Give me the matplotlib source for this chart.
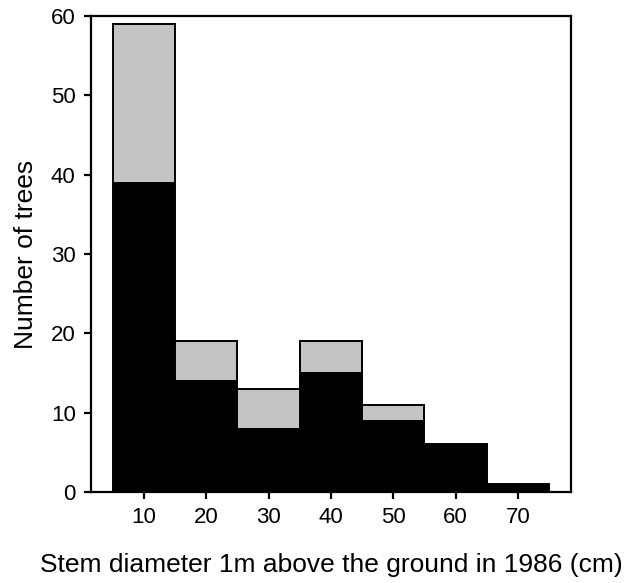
import numpy as np
import matplotlib

matplotlib.use('Agg')
import matplotlib.pyplot as plt

# stem diameter classes (cm), bin centres
diameter_bins = [10, 20, 30, 40, 50, 60, 70]
# black part of each bar
black_counts = [39, 14, 8, 15, 9, 6, 1]
# grey part stacked on top
grey_counts = [20, 5, 5, 4, 2, 0, 0]
y_ticks = [0, 10, 20, 30, 40, 50, 60]

plt.rcParams['font.family'] = ['Liberation Sans', 'DejaVu Sans']

fig = plt.figure(figsize=(6.26, 5.83), dpi=100)
ax = fig.add_axes([0.1454, 0.1561, 0.912 - 0.1454, 0.9726 - 0.1561])

x = np.array(diameter_bins)
black = np.array(black_counts)
grey = np.array(grey_counts)

ax.bar(x, black, width=10, color='black', edgecolor='black', linewidth=1.4, zorder=2)
has_grey = grey > 0
ax.bar(x[has_grey], grey[has_grey], width=10, bottom=black[has_grey],
       color='#c4c4c4', edgecolor='black', linewidth=1.4, zorder=2)

ax.set_xlim(1.5, 78.5)
ax.set_ylim(0, 60)
ax.set_xticks(diameter_bins)
ax.set_yticks(y_ticks)

for sp in ax.spines.values():
    sp.set_linewidth(1.6)
ax.tick_params(direction='out', length=5, width=1.6, labelsize=16, pad=6,
               top=False, right=False)

ax.set_ylabel('Number of trees', fontsize=19, labelpad=9)
ax.set_xlabel('Stem diameter 1m above the ground in 1986 (cm)', fontsize=19, labelpad=18)

fig.savefig('out.png', dpi=100)
plt.close(fig)
